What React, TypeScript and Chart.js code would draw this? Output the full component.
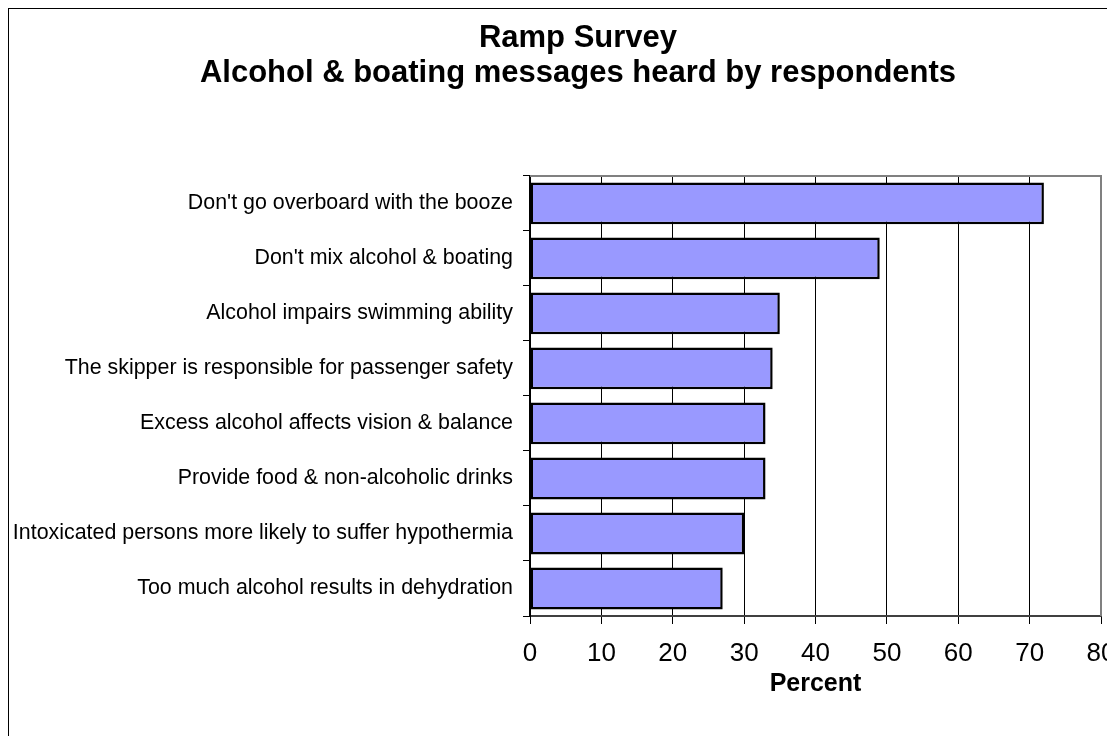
import React, { useEffect, useRef } from "react";
import { Chart, registerables } from "chart.js";

Chart.register(...registerables);

const titleLines = ["Ramp Survey", "Alcohol & boating messages heard by respondents"];
const categories = [
  "Don't go overboard with the booze",
  "Don't mix alcohol & boating",
  "Alcohol impairs swimming ability",
  "The skipper is responsible for passenger safety",
  "Excess alcohol affects vision & balance",
  "Provide food & non-alcoholic drinks",
  "Intoxicated persons more likely to suffer hypothermia",
  "Too much alcohol results in dehydration",
];
const percentValues = [72, 49, 35, 34, 33, 33, 30, 27];
const xAxisTitle = "Percent";
const xMin = 0;
const xMax = 80;
const xStep = 10;

const FONT = "'Liberation Sans', Arial, Helvetica, sans-serif";

const frameBorder = {
  id: "frameBorder",
  afterDraw(chart: any) {
    const { ctx, chartArea } = chart;
    ctx.save();
    ctx.strokeStyle = "#808080";
    ctx.lineWidth = 2;
    ctx.beginPath();
    ctx.moveTo(chartArea.left, chartArea.top);
    ctx.lineTo(chartArea.right, chartArea.top);
    ctx.lineTo(chartArea.right, chartArea.bottom);
    ctx.stroke();
    ctx.restore();
  },
};

export default function App() {
  const canvasRef = useRef<HTMLCanvasElement | null>(null);

  useEffect(() => {
    document.body.style.overflow = "hidden";
    document.documentElement.style.overflow = "hidden";
    if (!canvasRef.current) return;
    const chart = new Chart(canvasRef.current, {
      type: "bar",
      data: {
        labels: categories,
        datasets: [
          {
            data: percentValues,
            backgroundColor: "#9999FF",
            borderColor: "#000000",
            borderWidth: 2.5,
            borderSkipped: false,
            barPercentage: 0.76,
            categoryPercentage: 1,
          },
        ],
      },
      options: {
        indexAxis: "y",
        animation: false,
        responsive: true,
        maintainAspectRatio: false,
        layout: { padding: 0 },
        plugins: {
          legend: { display: false },
          tooltip: { enabled: false },
          title: {
            display: true,
            text: titleLines,
            color: "#000",
            font: { family: FONT, size: 31, weight: "bold", lineHeight: 1.16 },
            padding: { top: 11, bottom: 84 },
          },
        },
        scales: {
          x: {
            type: "linear",
            position: "bottom",
            min: xMin,
            max: xMax,
            ticks: {
              stepSize: xStep,
              color: "#000",
              font: { family: FONT, size: 26 },
              padding: 14,
              maxRotation: 0,
            },
            grid: {
              color: "#000",
              lineWidth: 1,
              tickLength: 8,
              tickColor: "#000",
            },
            border: { display: true, color: "#404040", width: 2 },
            title: {
              display: true,
              text: xAxisTitle,
              color: "#000",
              font: { family: FONT, size: 25, weight: "bold", lineHeight: 1.2 },
              padding: { top: 0, bottom: 37 },
            },
            afterFit(scale: any) {
              scale.height = 120;
              scale.paddingRight = 46;
              scale.paddingLeft = 0;
            },
          },
          y: {
            type: "category",
            ticks: {
              color: "#000",
              font: { family: FONT, size: 21.4 },
              padding: 10,
              autoSkip: false,
            },
            grid: {
              display: true,
              drawOnChartArea: false,
              tickLength: 7,
              color: "#000",
              tickColor: "#000",
              offset: true,
            },
            border: { display: true, color: "#000", width: 2 },
            afterFit(scale: any) {
              scale.width = 521;
            },
          },
        },
      },
      plugins: [frameBorder],
    });
    return () => chart.destroy();
  }, []);

  return (
    <div
      style={{
        borderLeft: "1px solid #000",
        borderTop: "1px solid #000",
        width: 1106,
        height: 727,
        overflow: "hidden",
        background: "#fff",
      }}
    >
      <div style={{ position: "relative", width: 1138, height: 727 }}>
        <canvas ref={canvasRef} />
      </div>
    </div>
  );
}
